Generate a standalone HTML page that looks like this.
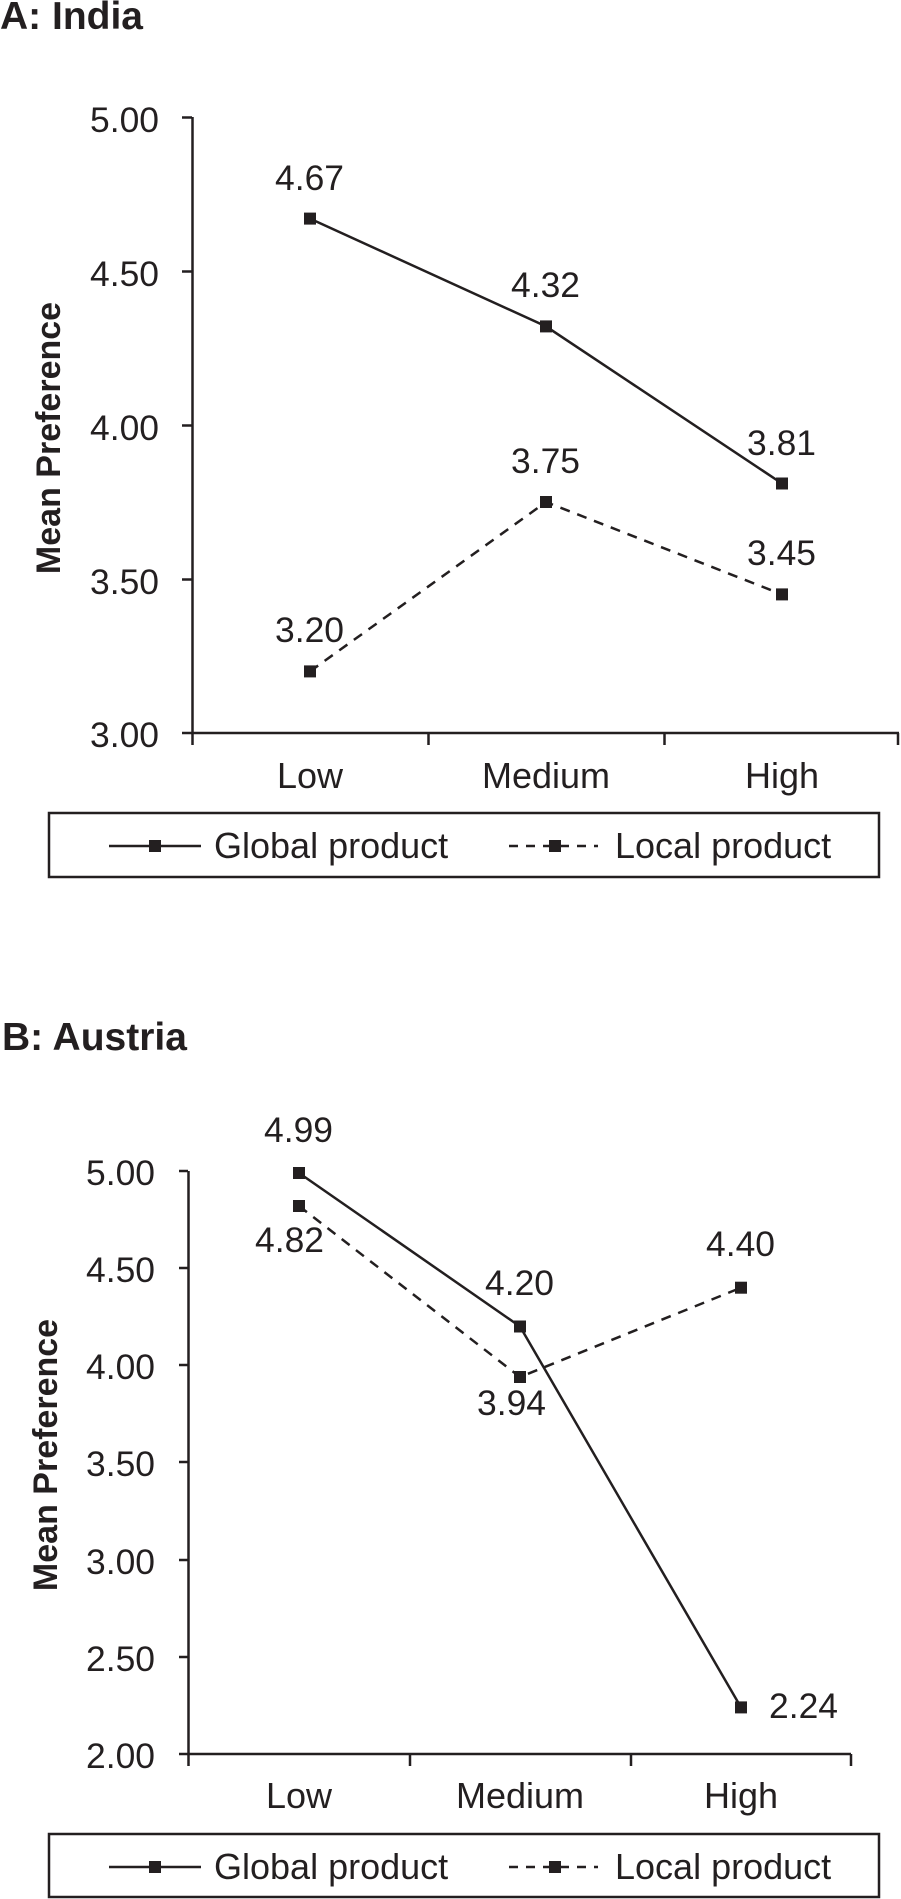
<!DOCTYPE html>
<html><head><meta charset="utf-8"><style>
html,body{margin:0;padding:0;background:#fff;}
svg{display:block;}
text{font-family:"Liberation Sans",Arial,sans-serif;fill:#231f20;}
</style></head><body>
<svg width="901" height="1899" viewBox="0 0 901 1899" xmlns="http://www.w3.org/2000/svg">
<g stroke="#231f20" fill="none">
<path d="M192.5 117 V733 H899" stroke-width="2.5"/>
<path d="M182 117.5H192 M182 271.5H192 M182 425.5H192 M182 579.5H192 M182 733H192" stroke-width="2.5"/>
<path d="M192.5 733V745 M428.5 733V745 M664.5 733V745 M898 733V745" stroke-width="2.5"/>
<polyline points="310,218.6 546,326.4 782,483.5" stroke-width="2.5"/>
<polyline points="310,671.4 546,502 782,594.4" stroke-width="2.5" stroke-dasharray="10,8"/>
<rect x="49" y="813" width="830" height="64" stroke-width="2.5"/>
<path d="M109 846H201" stroke-width="2.5"/>
<path d="M509 846H598" stroke-width="2.5" stroke-dasharray="9,8"/>
<path d="M188.5 1171 V1754 H851" stroke-width="2.5"/>
<path d="M179 1171H188 M179 1268H188 M179 1365H188 M179 1462H188 M179 1560H188 M179 1657H188 M179 1754H188" stroke-width="2.5"/>
<path d="M188.5 1754V1766 M410 1754V1766 M631 1754V1766 M851 1754V1766" stroke-width="2.5"/>
<polyline points="299,1173 520,1326.5 741,1707.4" stroke-width="2.5"/>
<polyline points="299,1206 520,1377 741,1287.7" stroke-width="2.5" stroke-dasharray="10,8"/>
<rect x="49" y="1834" width="830" height="63" stroke-width="2.5"/>
<path d="M109 1867H201" stroke-width="2.5"/>
<path d="M509 1867H598" stroke-width="2.5" stroke-dasharray="9,8"/>
</g>
<g fill="#231f20">
<rect x="304" y="212.6" width="12" height="12"/>
<rect x="540" y="320.4" width="12" height="12"/>
<rect x="776" y="477.5" width="12" height="12"/>
<rect x="304" y="665.4" width="12" height="12"/>
<rect x="540" y="496" width="12" height="12"/>
<rect x="776" y="588.4" width="12" height="12"/>
<rect x="149" y="840" width="12" height="12"/>
<rect x="549" y="840" width="12" height="12"/>
<rect x="293" y="1167" width="12" height="12"/>
<rect x="514" y="1320.5" width="12" height="12"/>
<rect x="735" y="1701.4" width="12" height="12"/>
<rect x="293" y="1200" width="12" height="12"/>
<rect x="514" y="1371" width="12" height="12"/>
<rect x="735" y="1281.7" width="12" height="12"/>
<rect x="149" y="1861" width="12" height="12"/>
<rect x="549" y="1861" width="12" height="12"/>
</g>
<text x="0" y="29" font-size="39" font-weight="bold">A: India</text>
<text x="2" y="1050" font-size="39" font-weight="bold">B: Austria</text>
<text transform="translate(60,438) rotate(-90)" font-size="34" font-weight="bold" text-anchor="middle">Mean Preference</text>
<text transform="translate(57,1455) rotate(-90)" font-size="34" font-weight="bold" text-anchor="middle">Mean Preference</text>
<g font-size="35" lengthAdjust="spacingAndGlyphs">
<text x="90" y="132" textLength="69" lengthAdjust="spacingAndGlyphs">5.00</text>
<text x="90" y="286" textLength="69" lengthAdjust="spacingAndGlyphs">4.50</text>
<text x="90" y="440" textLength="69" lengthAdjust="spacingAndGlyphs">4.00</text>
<text x="90" y="594" textLength="69" lengthAdjust="spacingAndGlyphs">3.50</text>
<text x="90" y="747" textLength="69" lengthAdjust="spacingAndGlyphs">3.00</text>
<text x="86" y="1185" textLength="69" lengthAdjust="spacingAndGlyphs">5.00</text>
<text x="86" y="1282" textLength="69" lengthAdjust="spacingAndGlyphs">4.50</text>
<text x="86" y="1379" textLength="69" lengthAdjust="spacingAndGlyphs">4.00</text>
<text x="86" y="1476" textLength="69" lengthAdjust="spacingAndGlyphs">3.50</text>
<text x="86" y="1574" textLength="69" lengthAdjust="spacingAndGlyphs">3.00</text>
<text x="86" y="1671" textLength="69" lengthAdjust="spacingAndGlyphs">2.50</text>
<text x="86" y="1768" textLength="69" lengthAdjust="spacingAndGlyphs">2.00</text>
</g>
<g font-size="36" text-anchor="middle">
<text x="310" y="788">Low</text>
<text x="546" y="788">Medium</text>
<text x="782" y="788">High</text>
<text x="299" y="1808">Low</text>
<text x="520" y="1808">Medium</text>
<text x="741" y="1808">High</text>
</g>
<g font-size="36">
<text x="214" y="858">Global product</text>
<text x="615" y="858">Local product</text>
<text x="214" y="1879">Global product</text>
<text x="615" y="1879">Local product</text>
</g>
<g font-size="35">
<text x="275" y="190" textLength="69" lengthAdjust="spacingAndGlyphs">4.67</text>
<text x="511" y="297" textLength="69" lengthAdjust="spacingAndGlyphs">4.32</text>
<text x="747" y="455" textLength="69" lengthAdjust="spacingAndGlyphs">3.81</text>
<text x="511" y="473" textLength="69" lengthAdjust="spacingAndGlyphs">3.75</text>
<text x="747" y="565" textLength="69" lengthAdjust="spacingAndGlyphs">3.45</text>
<text x="275" y="642" textLength="69" lengthAdjust="spacingAndGlyphs">3.20</text>
<text x="264" y="1142" textLength="69" lengthAdjust="spacingAndGlyphs">4.99</text>
<text x="255" y="1252" textLength="69" lengthAdjust="spacingAndGlyphs">4.82</text>
<text x="485" y="1295" textLength="69" lengthAdjust="spacingAndGlyphs">4.20</text>
<text x="706" y="1256" textLength="69" lengthAdjust="spacingAndGlyphs">4.40</text>
<text x="477" y="1415" textLength="69" lengthAdjust="spacingAndGlyphs">3.94</text>
<text x="769" y="1718" textLength="69" lengthAdjust="spacingAndGlyphs">2.24</text>
</g>
</svg>
</body></html>
